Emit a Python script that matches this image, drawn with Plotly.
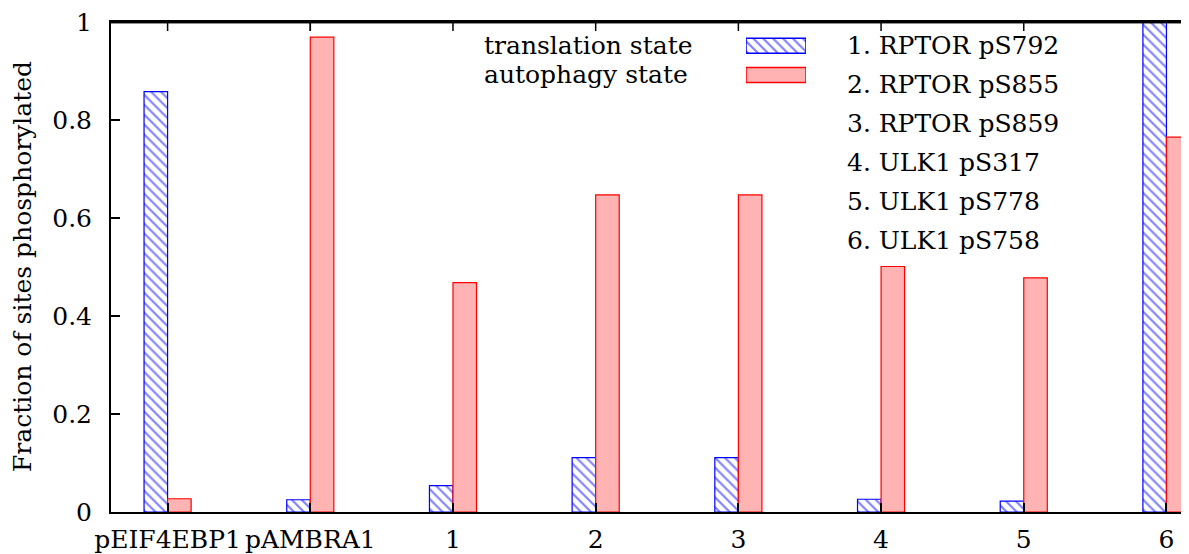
import plotly.graph_objects as go

categories = ["pEIF4EBP1", "pAMBRA1", "1", "2", "3", "4", "5", "6"]
translation_state = [0.858, 0.025, 0.054, 0.111, 0.111, 0.026, 0.022, 1.0]
autophagy_state = [0.027, 0.969, 0.468, 0.647, 0.647, 0.501, 0.478, 0.765]
series_names = ["translation state", "autophagy state"]
site_labels = ["1. RPTOR pS792", "2. RPTOR pS855", "3. RPTOR pS859",
               "4. ULK1 pS317", "5. ULK1 pS778", "6. ULK1 pS758"]
y_ticks = [0, 0.2, 0.4, 0.6, 0.8, 1]

# page body has an 8px margin; work in screen pixels and compensate
OFF = 8
W, H = 1189, 554
SL, SR, ST, SB = 111, 1189, 22, 512
FONT = "DejaVu Serif"
FS = 25
BLUE = "#0000ff"
PINK = "#ffb3b3"
RED = "#ff0000"


def px_x(x):
    return (x - SL) / (SR - SL)


def px_y(y):
    return (SB - y) / (SB - ST)


bar_w = 0.165
hatch = dict(shape="\\", fgcolor=BLUE, bgcolor="white", size=7, solidity=0.3)
fig = go.Figure()
fig.add_trace(go.Bar(
    x=categories, y=translation_state, name=series_names[0],
    width=bar_w, offset=-bar_w,
    marker=dict(color="white", line=dict(color=BLUE, width=1.2), pattern=hatch),
    showlegend=False,
))
fig.add_trace(go.Bar(
    x=categories, y=autophagy_state, name=series_names[1],
    width=bar_w, offset=0,
    marker=dict(color=PINK, line=dict(color=RED, width=1.2)),
    showlegend=False,
))

# legend swatches on a helper axis
fig.add_trace(go.Bar(
    x=[1], y=[0], orientation="h", width=0.514, xaxis="x2", yaxis="y2",
    marker=dict(color="white", line=dict(color=BLUE, width=1.5), pattern=hatch),
    showlegend=False, hoverinfo="skip",
))
fig.add_trace(go.Bar(
    x=[1], y=[1], orientation="h", width=0.514, xaxis="x2", yaxis="y2",
    marker=dict(color=PINK, line=dict(color=RED, width=1.5)),
    showlegend=False, hoverinfo="skip",
))

ann = []
leg_y = [45, 74]
for name, yy in zip(series_names, leg_y):
    ann.append(dict(text=name, x=px_x(482), y=px_y(yy), xref="paper", yref="paper",
                    xanchor="left", yanchor="middle", showarrow=False,
                    font=dict(family=FONT, size=FS, color="black")))
site_y = [45.5, 84.5, 123.5, 162.5, 201.5, 240.5]
for lab, yy in zip(site_labels, site_y):
    ann.append(dict(text=lab, x=px_x(845), y=px_y(yy), xref="paper", yref="paper",
                    xanchor="left", yanchor="middle", showarrow=False,
                    font=dict(family=FONT, size=FS, color="black")))
ann.append(dict(text="Fraction of sites phosphorylated", textangle=-90,
                x=px_x(22), y=0.5, xref="paper", yref="paper",
                xanchor="center", yanchor="middle", showarrow=False,
                font=dict(family=FONT, size=FS, color="black")))

# frame decorations: top border, top tick marks, right tick at 0.8
tick_frac = 9 / (SB - ST)
shapes = [
    dict(type="line", xref="paper", yref="y", x0=0, x1=1, y0=1.0, y1=1.0,
         line=dict(color="black", width=2.5), layer="above"),
    dict(type="rect", xref="paper", yref="paper", x0=0, x1=1,
         y0=px_y(ST + 1.2), y1=px_y(ST - 1.2),
         fillcolor="black", line=dict(width=0), layer="above"),
    dict(type="line", xref="paper", yref="y", x0=px_x(1185), x1=1.0,
         y0=0.8, y1=0.8, line=dict(color="black", width=1.5)),
]
for c in categories:
    shapes.append(dict(type="line", xref="x", yref="paper", x0=c, x1=c,
                       y0=1 - tick_frac, y1=1,
                       line=dict(color="black", width=1.5), layer="above"))

fig.update_layout(
    width=W, height=H,
    margin=dict(l=SL - OFF, r=W - (SR - OFF), t=ST - OFF, b=H - (SB - OFF),
                pad=0, autoexpand=False),
    paper_bgcolor="white", plot_bgcolor="white",
    barmode="overlay",
    font=dict(family=FONT, size=FS, color="black"),
    annotations=ann,
    shapes=shapes,
    xaxis=dict(
        type="category", categoryorder="array", categoryarray=categories,
        range=[-0.3966, 7.158], showgrid=False, zeroline=False,
        showline=True, linecolor="black", linewidth=2, mirror=True,
        ticks="inside", ticklen=9, tickwidth=1.5, tickcolor="black",
        tickangle=0, automargin=False, ticklabeloverflow="allow",
        tickfont=dict(family=FONT, size=FS), ticklabelstandoff=4,
    ),
    yaxis=dict(
        range=[0, 1], tickvals=y_ticks, showgrid=False, zeroline=False,
        showline=True, linecolor="black", linewidth=2, automargin=False,
        ticks="inside", ticklen=9, tickwidth=1.5, tickcolor="black",
        ticklabeloverflow="allow",
        tickfont=dict(family=FONT, size=FS), ticklabelstandoff=12,
    ),
    xaxis2=dict(domain=[px_x(746), px_x(806)], range=[0, 1], anchor="y2",
                visible=False, fixedrange=True),
    yaxis2=dict(domain=[px_y(89.6), px_y(31.2)], range=[1.5, -0.5], anchor="x2",
                visible=False, fixedrange=True),
)

fig.write_html("out.html")
